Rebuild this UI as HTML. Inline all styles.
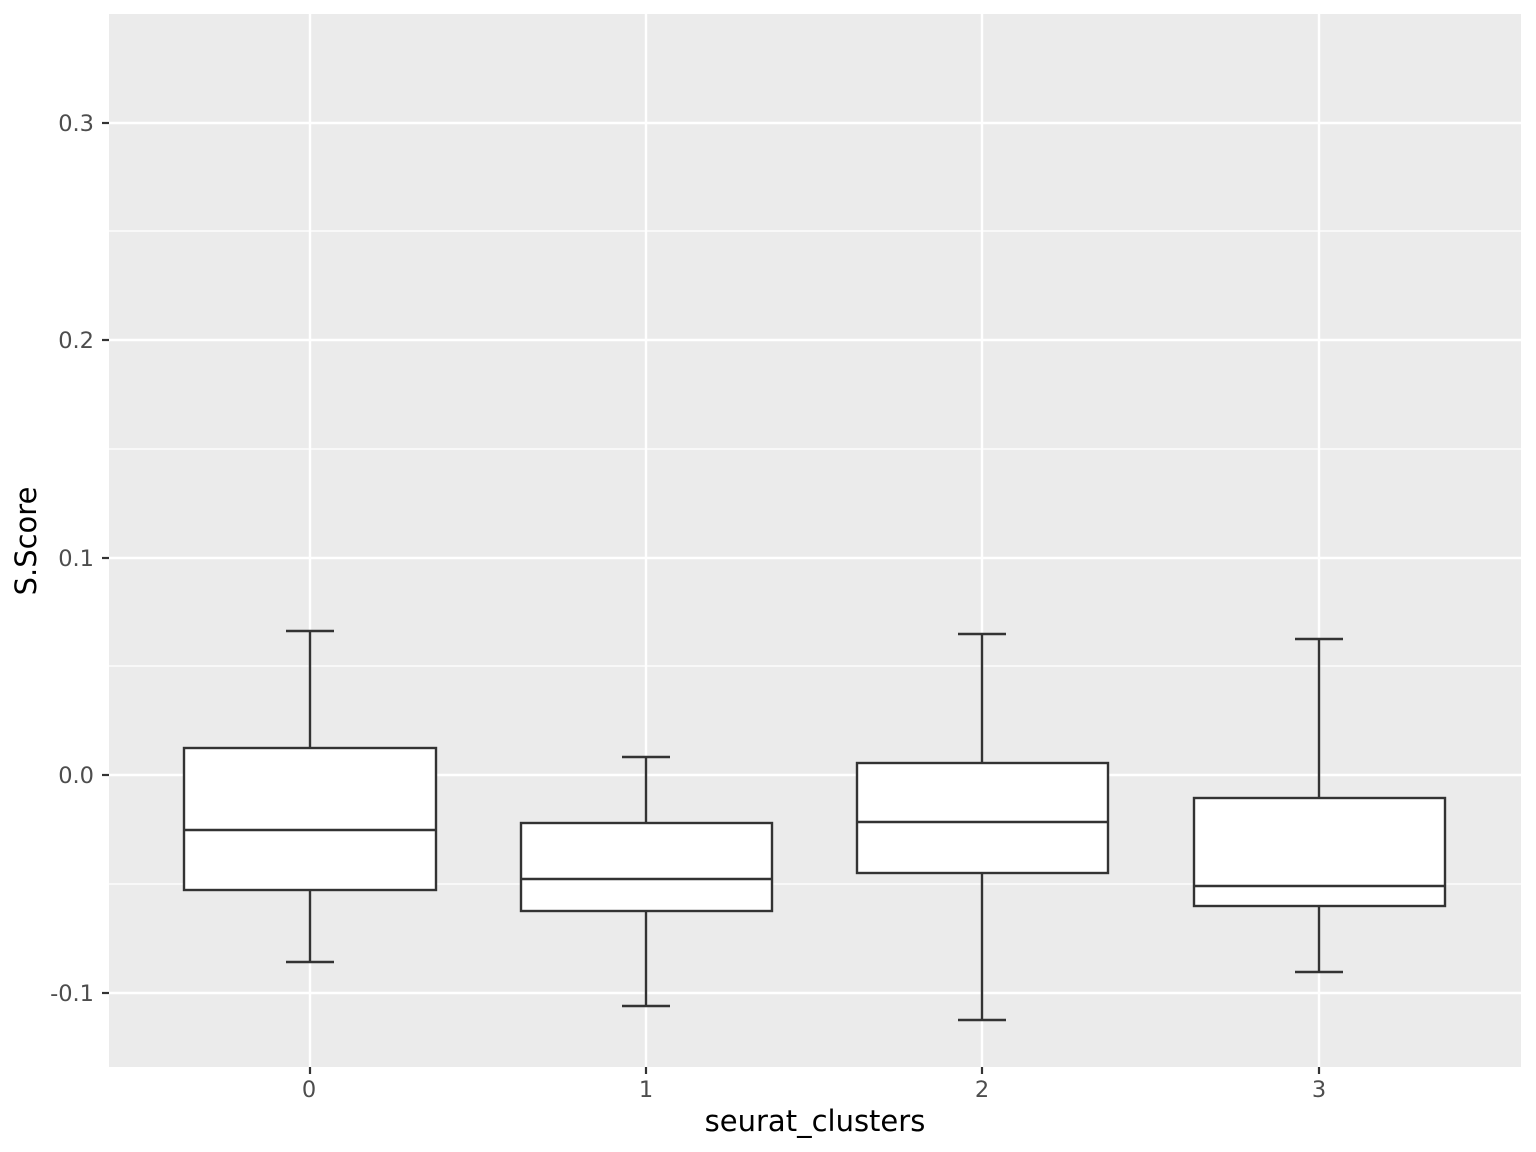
<!DOCTYPE html>
<html><head><meta charset="utf-8"><style>
html,body{margin:0;padding:0;background:#fff;}
svg{display:block;font-family:"DejaVu Sans","Liberation Sans",sans-serif;}
</style></head><body>
<svg width="1536" height="1152" viewBox="0 0 1536 1152" xmlns="http://www.w3.org/2000/svg">
<rect x="0" y="0" width="1536" height="1152" fill="#fff"/>
<rect x="109" y="14" width="1412" height="1053" fill="#ebebeb"/>
<g stroke="#fff" stroke-width="1.2">
<line x1="109" x2="1521" y1="231" y2="231"/>
<line x1="109" x2="1521" y1="449" y2="449"/>
<line x1="109" x2="1521" y1="666" y2="666"/>
<line x1="109" x2="1521" y1="884" y2="884"/>
</g>
<g stroke="#fff" stroke-width="2.4">
<line x1="109" x2="1521" y1="123" y2="123"/>
<line x1="109" x2="1521" y1="340" y2="340"/>
<line x1="109" x2="1521" y1="558" y2="558"/>
<line x1="109" x2="1521" y1="775" y2="775"/>
<line x1="109" x2="1521" y1="993" y2="993"/>
<line x1="310" x2="310" y1="14" y2="1067"/>
<line x1="646" x2="646" y1="14" y2="1067"/>
<line x1="982" x2="982" y1="14" y2="1067"/>
<line x1="1319" x2="1319" y1="14" y2="1067"/>
</g>
<g stroke="#333" stroke-width="2.4" fill="#fff">
<line x1="310" x2="310" y1="631" y2="748"/><line x1="310" x2="310" y1="890" y2="962"/>
<line x1="286" x2="334" y1="631" y2="631"/><line x1="286" x2="334" y1="962" y2="962"/>
<rect x="184" y="748" width="252" height="142"/><line x1="184" x2="436" y1="830" y2="830"/>

<line x1="646" x2="646" y1="757" y2="823"/><line x1="646" x2="646" y1="911" y2="1006"/>
<line x1="622" x2="670" y1="757" y2="757"/><line x1="622" x2="670" y1="1006" y2="1006"/>
<rect x="521" y="823" width="251" height="88"/><line x1="521" x2="772" y1="879" y2="879"/>

<line x1="982" x2="982" y1="634" y2="763"/><line x1="982" x2="982" y1="873" y2="1020"/>
<line x1="958" x2="1006" y1="634" y2="634"/><line x1="958" x2="1006" y1="1020" y2="1020"/>
<rect x="857" y="763" width="251" height="110"/><line x1="857" x2="1108" y1="822" y2="822"/>

<line x1="1319" x2="1319" y1="639" y2="798"/><line x1="1319" x2="1319" y1="906" y2="972"/>
<line x1="1295" x2="1343" y1="639" y2="639"/><line x1="1295" x2="1343" y1="972" y2="972"/>
<rect x="1194" y="798" width="251" height="108"/><line x1="1194" x2="1445" y1="886" y2="886"/>
</g>
<g stroke="#333" stroke-width="2.2">
<line x1="102" x2="109" y1="123" y2="123"/><line x1="102" x2="109" y1="340" y2="340"/>
<line x1="102" x2="109" y1="558" y2="558"/><line x1="102" x2="109" y1="775" y2="775"/>
<line x1="102" x2="109" y1="993" y2="993"/>
<line x1="310" x2="310" y1="1067" y2="1074"/><line x1="646" x2="646" y1="1067" y2="1074"/>
<line x1="982" x2="982" y1="1067" y2="1074"/><line x1="1319" x2="1319" y1="1067" y2="1074"/>
</g>
<g fill="#4d4d4d" font-size="22.5" text-anchor="end">
<text x="94" y="131">0.3</text><text x="94" y="348">0.2</text><text x="94" y="566">0.1</text>
<text x="94" y="783">0.0</text><text x="94" y="1001">-0.1</text>
</g>
<g fill="#4d4d4d" font-size="22.5" text-anchor="middle">
<text x="309" y="1097">0</text><text x="646" y="1097">1</text><text x="982" y="1097">2</text><text x="1319" y="1097">3</text>
</g>
<text x="815" y="1131" font-size="29" text-anchor="middle" fill="#000">seurat_clusters</text>
<text transform="translate(36,541) rotate(-90)" font-size="29" text-anchor="middle" fill="#000">S.Score</text>
</svg>
</body></html>
